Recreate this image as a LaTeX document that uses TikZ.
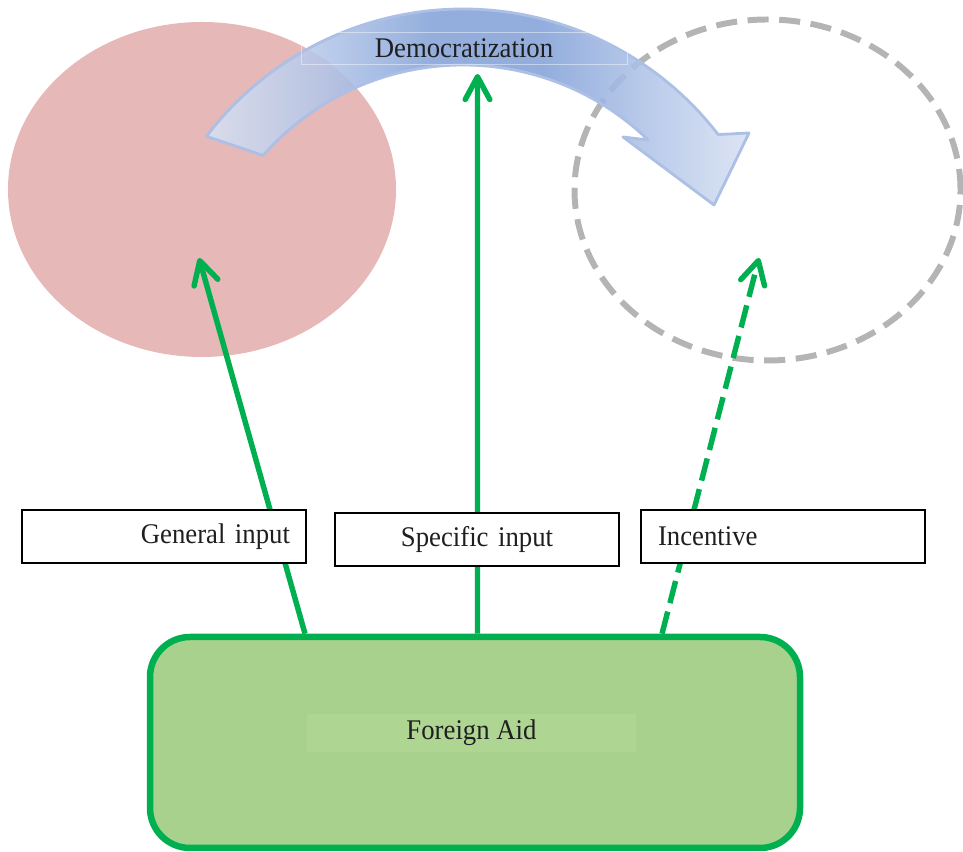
\documentclass[tikz,border=0pt]{standalone}
\usepackage{fontspec}
\setmainfont{Liberation Serif}[FakeStretch=0.94]
\usepackage{tikz}
\usetikzlibrary{arrows.meta}
\usetikzlibrary{shapes.geometric}
\usetikzlibrary{calc}
\definecolor{mgreen}{RGB}{0,176,80}
\definecolor{mpink}{RGB}{230,184,183}
\definecolor{mgray}{RGB}{180,180,180}
\definecolor{aidfill}{RGB}{169,209,142}
\definecolor{aidtext}{RGB}{174,214,146}
\definecolor{bandlight}{RGB}{216,225,242}
\definecolor{bandmid}{RGB}{178,197,232}
\definecolor{banddark}{RGB}{132,162,216}
\definecolor{bandedge}{RGB}{172,192,230}
\pgfdeclarehorizontalshading{bandshade}{100bp}{color(0bp)=(bandlight); color(25bp)=(bandlight); color(36bp)=(bandmid); color(46bp)=(banddark); color(56bp)=(banddark); color(66bp)=(bandmid); color(75bp)=(bandlight); color(100bp)=(bandlight)}
\tikzset{txt/.style = {font=\fontsize{16.2}{19}\selectfont, text=black!88}}
\tikzset{inbox/.style = {txt, draw, line width=0.7pt, fill=white, minimum height=1.06cm, inner xsep=0.32cm, text width=5.04cm}}
\tikzset{aidbox/.style = {draw=mgreen, line width=3.7pt, fill=aidfill, rounded corners=0.8cm, minimum width=13cm, minimum height=4.22cm, inner sep=0}}
\tikzset{band/.style = {shade, shading=bandshade, fill opacity=0.88, draw=bandedge, line width=1.6pt, line join=round}}
\tikzset{feed/.style = {mgreen, line width=3.1pt, -{Straight Barb[length=13pt, width=14pt, round]}}}

\begin{document}
\begin{tikzpicture}
          \useasboundingbox (0, 0) rectangle (19.26, 17.04);

          \node [ellipse, fill=mpink, inner sep=0, minimum width=7.76cm, minimum height=6.7cm] (state) at (4.04, 13.25) {};
          \node [ellipse, draw=mgray, line width=3.4pt, dash pattern=on 12pt off 6pt, inner sep=0, minimum width=7.72cm, minimum height=6.82cm] (future) at (15.35, 13.24) {};

          \coordinate (bandc) at (9.26, 10.42);
          \draw [band] ($(bandc)+(142.8:6.44)$) arc [start angle=142.8, end angle=37.6, radius=6.44]
            -- (14.98, 14.38) -- (14.28, 12.94) -- (12.46, 14.30)
            -- ($(bandc)+(45.9:5.32)$) arc [start angle=45.9, end angle=138.7, radius=5.32] -- cycle;
          \node [txt, draw=white, draw opacity=0.45, line width=0.5pt, minimum width=6.52cm, minimum height=0.64cm] (demo) at (9.28, 16.08) {Democratization};

          \node [aidbox] (aid) at (9.50, 2.19) {};
          \node [txt, fill=aidtext, minimum width=6.58cm, minimum height=0.66cm] (aidlabel) at (9.43, 2.38) {Foreign Aid};

          \coordinate (gentip) at (3.98, 11.88);
          \coordinate (spectip) at (9.55, 15.56);
          \coordinate (inctip) at (15.18, 11.88);
          \draw [feed] ([xshift=-3.4cm]aid.north) -- (gentip);
          \draw [feed] ([xshift=0.05cm]aid.north) -- (spectip);
          \draw [feed, dash pattern=on 13pt off 5pt] ([xshift=3.74cm]aid.north) -- (inctip);

          \node [inbox, align=right] (general) at (3.28, 6.31) {General input};
          \node [inbox, align=center] (specific) at (9.54, 6.25) {Specific input};
          \node [inbox, align=left, inner xsep=0.34cm, text width=5.0cm] (incentive) at (15.66, 6.31) {Incentive};
        \end{tikzpicture}
\end{document}
